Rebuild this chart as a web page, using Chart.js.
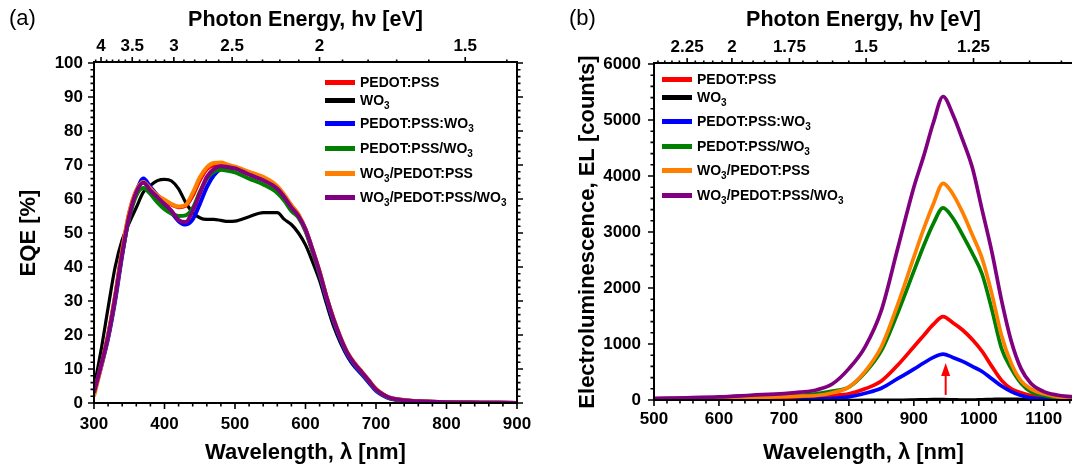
<!DOCTYPE html>
<html>
<head>
<meta charset="utf-8">
<script src="https://cdn.jsdelivr.net/npm/chart.js@4"></script>
<style>
html, body { margin: 0; padding: 0; background: #fff; overflow: hidden; }
body { width: 1072px; height: 464px; position: relative; font-family: "Liberation Sans", Arial, sans-serif; }
canvas { position: absolute; top: 0; }
#ca { left: 0; }
#cb { left: 536px; }
.panel { position: absolute; top: 5px; font-size: 22px; }
.leg { position: absolute; height: 20px; display: flex; align-items: center; font-weight: bold; font-size: 14px; white-space: nowrap; }
.leg i { display: inline-block; width: 30px; height: 5px; margin-right: 5px; }
.leg sub { font-size: 10px; line-height: 0; vertical-align: -4px; }
</style>
</head>
<body>
<canvas id="ca" width="536" height="464"></canvas>
<canvas id="cb" width="540" height="464"></canvas>
<div class="panel" style="left:9px">(a)</div>
<div class="panel" style="left:569px">(b)</div>
<div id="legA"></div>
<div id="legB"></div>
<script>
const HC = 1239.84;

const SERIES = ['PEDOT:PSS', 'WO3', 'PEDOT:PSS:WO3', 'PEDOT:PSS/WO3', 'WO3/PEDOT:PSS', 'WO3/PEDOT:PSS/WO3'];
const COLORS = ['#ff0000', '#000000', '#0000ff', '#008000', '#ff8000', '#800080'];

// (a) EQE vs wavelength
const WL_A = [300, 310, 320, 330, 340, 350, 360, 370, 380, 390, 400, 410, 420, 430, 440, 450, 460, 470, 480, 490,
  500, 520, 540, 560, 570, 580, 590, 600, 610, 620, 630, 640, 650, 660, 670, 680, 690, 700, 710, 720, 740, 760, 800, 850, 900];
const EQE_PEDOT = [3, 11, 20, 31.5, 45, 56, 62.5, 65, 63, 61, 59.5, 58.3, 57.6, 58, 61, 65.5, 68.8, 70, 70.2, 69.8,
  69.2, 67.8, 66.2, 63.5, 61, 58, 55.3, 51, 45, 38.5, 31, 24.5, 19, 14.5, 11.5, 9, 6.5, 4, 2.5, 1.5, 0.8, 0.5, 0.2, 0.1, 0];
const EQE_WO3 = [4.5, 15.5, 28, 40, 48, 53, 57.5, 62, 64, 65.4, 65.8, 65.3, 63, 59, 56, 54.5, 54, 54, 53.7, 53.4,
  53.5, 54.8, 56, 56, 54, 52.5, 50, 46.5, 41.5, 36, 29, 22.5, 17.5, 13.5, 10.5, 8.5, 6, 3.8, 2.3, 1.4, 0.7, 0.4, 0.2, 0.1, 0];
const EQE_MIX = [3, 10.5, 19, 30, 43.5, 55, 62, 66, 63.5, 61, 58.5, 56, 53.5, 52.5, 54, 58.5, 63.5, 67, 68.8, 69.2,
  69, 67.5, 65.8, 63.2, 60.8, 57.8, 55.2, 51, 44.7, 37.8, 30.3, 23.8, 18.3, 13.8, 10.8, 8.4, 6, 3.6, 2.2, 1.3, 0.7, 0.4, 0.2, 0.1, 0];
const EQE_PEDOT_WO3 = [3, 11, 19.5, 31, 44, 54.5, 61, 63.2, 61.5, 59, 57, 55.7, 55, 55.2, 57.3, 62, 66, 68, 68.6, 68.3,
  67.8, 66, 64.3, 61.8, 59.5, 56.5, 54.5, 50.5, 44.5, 38, 30.8, 24.3, 18.8, 14.3, 11.3, 8.8, 6.3, 3.9, 2.4, 1.4, 0.8, 0.5, 0.2, 0.1, 0];
const EQE_WO3_PEDOT = [2, 10.5, 20, 31.5, 45, 56, 62.5, 65, 63, 61, 59.8, 58.5, 57.8, 58.3, 61.8, 66.3, 69.3, 70.6, 70.7, 70.1,
  69.5, 68, 66.5, 63.8, 61.2, 58.2, 55.5, 51.2, 45.2, 38.7, 31.2, 24.7, 19.2, 14.7, 11.7, 9.2, 6.7, 4.2, 2.6, 1.6, 0.9, 0.5, 0.2, 0.1, 0];
const EQE_TRI = [3, 11, 19.5, 31, 44, 55, 62, 64.8, 62.5, 60.5, 58.5, 56.5, 53.8, 53.2, 56.5, 61.5, 66.5, 68.8, 69.6, 69.4,
  69, 67.2, 65.5, 63, 60.5, 57.5, 55, 51, 45, 38.5, 31, 24.5, 19, 14.5, 11.5, 9, 6.5, 4, 2.5, 1.5, 0.8, 0.5, 0.2, 0.1, 0];

// (b) EL vs wavelength
const WL_B = [500, 550, 600, 650, 700, 725, 750, 775, 800, 825, 850, 875, 900, 915, 930, 945, 960, 975, 990, 1005,
  1020, 1035, 1050, 1065, 1080, 1100, 1120, 1145];
const EL_PEDOT = [20, 20, 10, 20, 30, 45, 60, 80, 110, 200, 340, 620, 950, 1150, 1350, 1490, 1380, 1250, 1080, 870,
  600, 350, 200, 130, 80, 40, 20, 10];
const EL_WO3 = [0, 0, -5, -10, -10, -10, -10, -10, -5, 0, 0, 0, 5, 10, 15, 15, 10, 5, 5, 10, 15, 20, 20, 15, 10, 5, 0, 0];
const EL_MIX = [0, 0, -10, -40, -20, 0, 15, 30, 55, 120, 210, 380, 550, 660, 760, 820, 760, 690, 600, 510,
  380, 250, 150, 80, 40, 20, 10, 0];
const EL_PEDOT_WO3 = [0, 10, 30, 80, 70, 85, 110, 160, 230, 490, 880, 1550, 2300, 2750, 3150, 3430, 3250, 2950, 2620, 2250,
  1620, 920, 560, 300, 150, 80, 40, 20];
const EL_WO3_PEDOT = [0, 10, 20, 40, 60, 70, 80, 130, 230, 510, 950, 1700, 2550, 3050, 3500, 3870, 3680, 3350, 2950, 2530,
  1900, 1150, 650, 340, 200, 110, 60, 35];
const EL_TRI = [30, 40, 55, 85, 115, 140, 180, 290, 560, 950, 1600, 2700, 3800, 4350, 4950, 5420, 5100, 4650, 4150, 3400,
  2650, 1780, 1050, 560, 300, 150, 90, 55];

// axis ticks
const XT_A = [300, 400, 500, 600, 700, 800, 900];
const YT_A = [0, 10, 20, 30, 40, 50, 60, 70, 80, 90, 100];
const EV_A = ['4', '3.5', '3', '2.5', '2', '1.5'];
const EV_A_MINOR = [4.1, 3.9, 3.8, 3.7, 3.6, 3.4, 3.3, 3.2, 3.1, 2.9, 2.8, 2.7, 2.6, 2.4, 2.3, 2.2, 2.1, 1.9, 1.8, 1.7, 1.6, 1.4];
const XT_B = [500, 600, 700, 800, 900, 1000, 1100];
const YT_B = [0, 1000, 2000, 3000, 4000, 5000, 6000];
const EV_B = ['2.25', '2', '1.75', '1.5', '1.25'];
const EV_B_MINOR = [2.45, 2.4, 2.35, 2.3, 2.2, 2.15, 2.1, 2.05, 1.95, 1.9, 1.85, 1.8, 1.7, 1.65, 1.6, 1.55,
  1.45, 1.4, 1.35, 1.3, 1.2, 1.15, 1.1];

Chart.defaults.font.family = '"Liberation Sans", Arial, sans-serif';
Chart.defaults.color = '#000';

// draw order: purple on top
const ORDER = [4, 5, 3, 2, 1, 0];

function minors(lo, hi, step, majors) {
  const out = [];
  for (let v = lo; v <= hi + 1e-9; v += step) {
    if (!majors.some(m => Math.abs(m - v) < 1e-6)) out.push(v);
  }
  return out;
}

const framePlugin = {
  id: 'frame',
  afterDraw(chart, args, o) {
    const { ctx, chartArea: a, scales } = chart;
    ctx.save();
    ctx.strokeStyle = '#000';
    ctx.lineWidth = 2;
    ctx.beginPath();
    ctx.moveTo(a.left, a.bottom); ctx.lineTo(a.left, a.top - 1); ctx.lineTo(a.right + 1, a.top - 1);
    ctx.moveTo(a.left - 1, a.bottom); ctx.lineTo(a.right + 1, a.bottom);
    if (o.right) { ctx.moveTo(a.right, a.top - 1); ctx.lineTo(a.right, a.bottom); }
    ctx.stroke();

    ctx.lineWidth = 1.6;
    ctx.beginPath();
    const xs = (vals, len) => vals.forEach(v => {
      const p = scales.x.getPixelForValue(v);
      ctx.moveTo(p, a.bottom); ctx.lineTo(p, a.bottom + len);
    });
    const ts = (evs, len) => evs.forEach(e => {
      const p = scales.x.getPixelForValue(HC / e);
      if (p < a.left - 0.5 || p > a.right + 0.5) return;
      ctx.moveTo(p, a.top); ctx.lineTo(p, a.top - len);
    });
    const ys = (vals, len) => vals.forEach(v => {
      const p = scales.y.getPixelForValue(v);
      ctx.moveTo(a.left, p); ctx.lineTo(a.left - len, p);
      if (o.right) { ctx.moveTo(a.right, p); ctx.lineTo(a.right + len, p); }
    });
    xs(o.xMajor, 6); xs(o.xMinor, 3.5);
    ts(o.evMajor.map(parseFloat), 6); ts(o.evMinor, 3.5);
    ys(o.yMajor, 6); ys(o.yMinor, 3.5);
    ctx.stroke();

    if (o.arrow) {
      const x = scales.x.getPixelForValue(o.arrow.x);
      const y0 = scales.y.getPixelForValue(o.arrow.from);
      const y1 = scales.y.getPixelForValue(o.arrow.to);
      ctx.strokeStyle = '#ff0000';
      ctx.fillStyle = '#ff0000';
      ctx.lineWidth = 2;
      ctx.beginPath();
      ctx.moveTo(x, y0); ctx.lineTo(x, y1 + 10);
      ctx.stroke();
      ctx.beginPath();
      ctx.moveTo(x, y1); ctx.lineTo(x - 4.5, y1 + 13); ctx.lineTo(x + 4.5, y1 + 13);
      ctx.closePath(); ctx.fill();
    }
    ctx.restore();
  }
};

function lineSets(wl, series, width) {
  return series.map((vals, i) => ({
    label: SERIES[i],
    data: wl.map((w, k) => ({ x: w, y: vals[k] })),
    borderColor: COLORS[i],
    borderWidth: i === 1 ? width - 0.8 : width,
    pointRadius: 0,
    cubicInterpolationMode: 'monotone',
    fill: false,
    order: ORDER[i]
  }));
}

function makePanel(el, p) {
  const tickFont = { size: 17, weight: 'bold' };
  const titleFont = { size: 22, weight: 'bold' };
  const plain = v => String(v);
  // keep the plot box where it is, whatever the label widths
  const fixH = h => s => { s.height = h; s.paddingLeft = 0; s.paddingRight = 0; };
  return new Chart(el, {
    type: 'line',
    data: { datasets: lineSets(p.wl, p.series, p.width) },
    options: {
      responsive: false,
      animation: false,
      layout: { padding: p.pad },
      plugins: {
        legend: { display: false },
        tooltip: { enabled: false },
        frame: p.frame
      },
      scales: {
        x: {
          type: 'linear', position: 'bottom', min: p.xmin, max: p.xmax,
          afterBuildTicks: s => { s.ticks = p.xt.map(v => ({ value: v })); },
          ticks: { font: tickFont, padding: p.xPad, maxRotation: 0, autoSkip: false, callback: plain },
          grid: { display: false, drawTicks: false }, border: { display: false },
          title: { display: true, text: 'Wavelength, λ [nm]', font: titleFont, padding: { top: 0, bottom: p.xTitlePad } },
          afterFit: fixH(p.xH)
        },
        x2: {
          type: 'linear', axis: 'x', position: 'top', min: p.xmin, max: p.xmax,
          afterBuildTicks: s => { s.ticks = p.ev.map(e => ({ value: HC / parseFloat(e) })); },
          ticks: { font: tickFont, padding: p.topPad, maxRotation: 0, autoSkip: false, callback: (v, i) => p.ev[i] },
          grid: { display: false, drawTicks: false }, border: { display: false },
          title: { display: true, text: 'Photon Energy, hν [eV]', font: { size: 21.5, weight: 'bold' }, padding: { top: p.topTitlePad, bottom: 0 } },
          afterFit: fixH(p.topH)
        },
        y: {
          type: 'linear', min: p.ymin, max: p.ymax,
          afterBuildTicks: s => { s.ticks = p.yt.map(v => ({ value: v })); },
          ticks: { font: tickFont, padding: p.yPad, autoSkip: false, callback: plain },
          grid: { display: false, drawTicks: false }, border: { display: false },
          title: { display: true, text: p.yTitle, font: titleFont, padding: { top: p.yTitlePad, bottom: 0 } },
          afterFit: s => { s.width = p.yW; s.paddingTop = 0; s.paddingBottom = 0; }
        }
      }
    },
    plugins: [framePlugin]
  });
}

makePanel(document.getElementById('ca'), {
  wl: WL_A,
  series: [EQE_PEDOT, EQE_WO3, EQE_MIX, EQE_PEDOT_WO3, EQE_WO3_PEDOT, EQE_TRI],
  width: 4,
  xmin: 300, xmax: 900, ymin: 0, ymax: 100,
  xt: XT_A, yt: YT_A, ev: EV_A,
  pad: { left: 0, right: 19, top: 0, bottom: 0 },
  xH: 61, topH: 63, yW: 94,
  xPad: 11, xTitlePad: -2, topPad: 6, topTitlePad: 7, yPad: 11, yTitlePad: 16,
  yTitle: 'EQE [%]',
  frame: {
    right: true,
    xMajor: XT_A, xMinor: minors(300, 900, 20, XT_A),
    yMajor: YT_A, yMinor: minors(0, 100, 2, YT_A),
    evMajor: EV_A, evMinor: EV_A_MINOR
  }
});

makePanel(document.getElementById('cb'), {
  wl: WL_B,
  series: [EL_PEDOT, EL_WO3, EL_MIX, EL_PEDOT_WO3, EL_WO3_PEDOT, EL_TRI],
  width: 3.7,
  xmin: 500, xmax: 1145, ymin: 0, ymax: 6000,
  xt: XT_B, yt: YT_B, ev: EV_B,
  pad: { left: 0, right: 3, top: 0, bottom: 0 },
  xH: 64, topH: 64, yW: 118,
  xPad: 9, xTitlePad: -2, topPad: 6, topTitlePad: 7, yPad: 13, yTitlePad: 39,
  yTitle: 'Electroluminescence, EL [counts]',
  frame: {
    right: false,
    xMajor: XT_B, xMinor: minors(500, 1140, 20, XT_B),
    yMajor: YT_B, yMinor: minors(0, 6000, 200, YT_B),
    evMajor: EV_B, evMinor: EV_B_MINOR,
    arrow: { x: 949, from: 90, to: 660 }
  }
});

// legends as text with subscripts
function legend(id, x, rows) {
  const box = document.getElementById(id);
  SERIES.forEach((name, i) => {
    const d = document.createElement('div');
    d.className = 'leg';
    d.style.left = x + 'px';
    d.style.top = (rows[i] - 10) + 'px';
    d.innerHTML = '<i style="background:' + COLORS[i] + '"></i><span>' +
      name.replace(/WO3/g, 'WO<sub>3</sub>') + '</span>';
    box.appendChild(d);
  });
}
legend('legA', 325, [82, 100, 123, 148, 173, 197]);
legend('legB', 662, [79, 97, 121, 146, 170, 195]);
</script>
</body>
</html>
